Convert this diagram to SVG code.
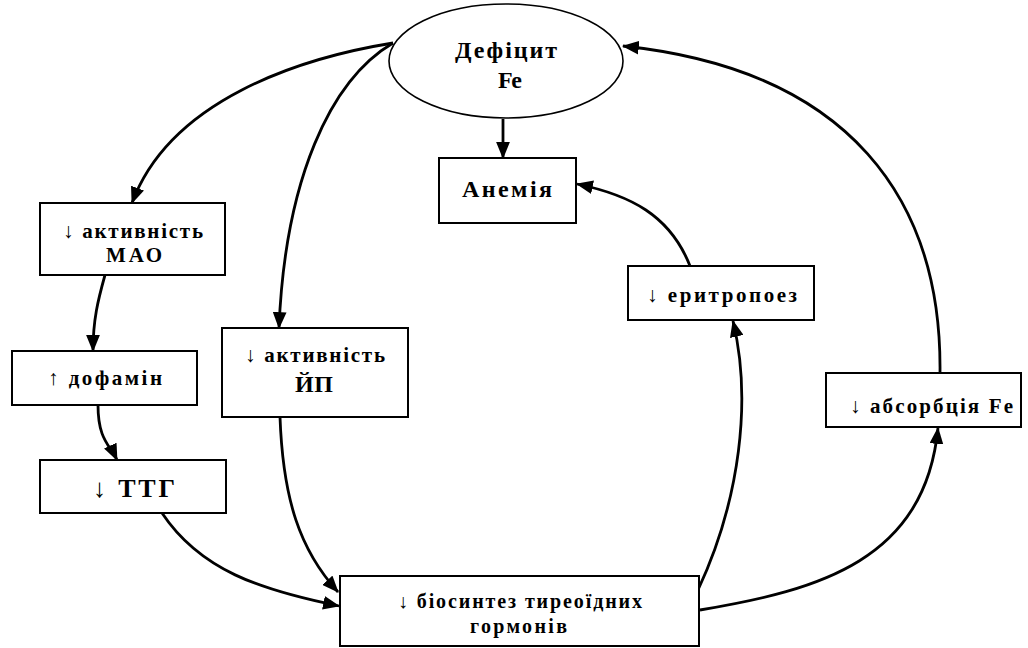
<svg xmlns="http://www.w3.org/2000/svg" width="1028" height="648" viewBox="0 0 1028 648">
<style>
.box{fill:#fff;stroke:#000;stroke-width:2}
.ell{fill:#fff;stroke:#000;stroke-width:1.6}
.t{font-family:"Liberation Serif","Times New Roman",serif;font-weight:bold;fill:#000}
.ar{font-weight:normal;fill:#000}
.c{fill:none;stroke:#000;stroke-width:2.8;marker-end:url(#ah)}
</style>
<defs>
<marker id="ah" markerUnits="userSpaceOnUse" markerWidth="18" markerHeight="14" refX="15" refY="6.5" orient="auto" viewBox="0 0 17 13">
<path d="M0,0 L16,6.5 L0,13 z" fill="#000"/>
</marker>
</defs>
<rect width="1028" height="648" fill="#fff"/>
<g id="connectors">
<path class="c" d="M393,43 C300,58 170,100 132,203"/>
<path class="c" d="M393,43 C330,80 285,180 279,328"/>
<path class="c" d="M503,119 L503,158"/>
<path class="c" d="M690,266 C670,215 630,195 577,184"/>
<path class="c" d="M940,373 C942,200 850,70 623,46"/>
<path class="c" d="M105,275 C98,300 93,320 93,351"/>
<path class="c" d="M98,405 C98,440 110,445 117,460"/>
<path class="c" d="M162,513 C200,570 260,590 339,606"/>
<path class="c" d="M280,417 C283,500 300,550 338,592"/>
<path class="c" d="M698,590 C740,500 752,400 733,321"/>
<path class="c" d="M700,610 C820,590 925,560 938,428"/>
</g>
<g id="deficit">
<ellipse class="ell" cx="506" cy="61" rx="117" ry="57"/>
<text class="t" x="455" y="58" font-size="24" textLength="102" lengthAdjust="spacing">Дефіцит</text>
<text class="t" x="498" y="88" font-size="24" textLength="24" lengthAdjust="spacing">Fe</text>
</g>
<g id="anemia">
<rect class="box" x="439" y="158" width="137" height="65"/>
<text class="t" x="462" y="197" font-size="24" textLength="90" lengthAdjust="spacing">Анемія</text>
</g>
<g id="mao">
<rect class="box" x="40" y="203" width="185" height="72"/>
<text class="t" x="63" y="238" font-size="21" textLength="140" lengthAdjust="spacing"><tspan class="ar">↓</tspan> активність</text>
<text class="t" x="106" y="262" font-size="21" textLength="56" lengthAdjust="spacing">МАО</text>
</g>
<g id="dopamine">
<rect class="box" x="12" y="351" width="185" height="54"/>
<text class="t" x="48" y="385" font-size="21" textLength="114" lengthAdjust="spacing"><tspan class="ar">↑</tspan> дофамін</text>
</g>
<g id="ttg">
<rect class="box" x="40" y="460" width="186" height="53"/>
<text class="t" x="93" y="497" font-size="26" textLength="82" lengthAdjust="spacing"><tspan class="ar">↓</tspan> ТТГ</text>
</g>
<g id="yp">
<rect class="box" x="222" y="328" width="186" height="89"/>
<text class="t" x="245" y="362" font-size="21" textLength="140" lengthAdjust="spacing"><tspan class="ar">↓</tspan> активність</text>
<text class="t" x="295" y="392" font-size="24" textLength="38" lengthAdjust="spacing">ЙП</text>
</g>
<g id="biosynthesis">
<rect class="box" x="340" y="576" width="359" height="70"/>
<text class="t" x="398" y="608" font-size="20" textLength="244" lengthAdjust="spacing"><tspan class="ar">↓</tspan> біосинтез тиреоїдних</text>
<text class="t" x="470" y="633" font-size="20" textLength="97" lengthAdjust="spacing">гормонів</text>
</g>
<g id="erythropoiesis">
<rect class="box" x="628" y="266" width="186" height="54"/>
<text class="t" x="647" y="302" font-size="21" textLength="150" lengthAdjust="spacing"><tspan class="ar">↓</tspan> еритропоез</text>
</g>
<g id="absorption">
<rect class="box" x="826" y="373" width="195" height="54"/>
<text class="t" x="850" y="413" font-size="21" textLength="163" lengthAdjust="spacing"><tspan class="ar">↓</tspan> абсорбція Fe</text>
</g>
</svg>
